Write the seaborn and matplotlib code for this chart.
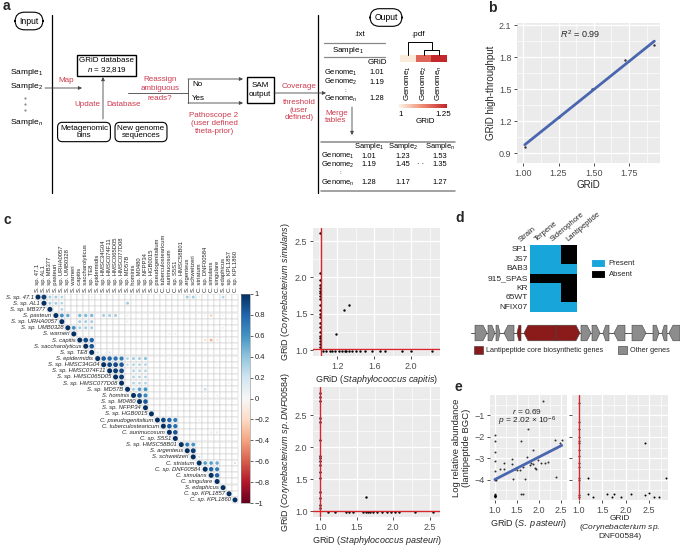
import numpy as np
import pandas as pd
import matplotlib
matplotlib.use("Agg")
import matplotlib.pyplot as plt
import matplotlib.cm as cm
import seaborn as sns
from matplotlib.patches import Rectangle, Patch
from matplotlib.colors import ListedColormap, LinearSegmentedColormap, Normalize
from matplotlib.ticker import AutoMinorLocator

# ---------------- datos ----------------
# panel a (tablas del diagrama)
genome_names = ["Genome$_1$", "Genome$_2$", "Genome$_n$"]
sample_names = ["Sample$_1$", "Sample$_2$", "Sample$_n$"]
txt_grid = [1.01, 1.19, 1.28]
merged_s1 = [1.01, 1.19, 1.28]
merged_s2 = [1.23, 1.45, 1.17]
merged_sn = [1.53, 1.35, 1.27]

# panel b
b_grid = [1.01, 1.25, 1.49, 1.72, 1.93]
b_high = [0.96, 1.24, 1.50, 1.77, 1.91]

# panel c: matriz de correlacion
species = ["S. sp. 47.1", "S. sp. AL1", "S. sp. MB377", "S. pasteuri", "S. sp. URHA0057",
           "S. sp. UMB0328", "S. warneri", "S. capitis", "S. saccharolyticus", "S. sp. TE8",
           "S. epidermidis", "S. sp. HMSC34G04", "S. sp. HMSC074F11", "S. sp. HMSC065D05",
           "S. sp. HMSC077D08", "S. sp. MD57B", "S. hominis", "S. sp. M0480", "S. sp. NFPP34",
           "S. sp. HGB0015", "C. pseudogenitalium", "C. tuberculostearicum", "C. aurimucosum",
           "C. sp. S5S1", "S. sp. HMSC58B01", "S. argenteus", "S. schweitzeri", "C. striatum",
           "C. sp. DNF00584", "C. simulans", "C. singulare", "S. edaphicus", "C. sp. KPL1857",
           "C. sp. KPL1860"]
corr_row = [0, 0, 0, 0, 0, 0, 0, 0, 0,
            1, 1, 1, 1,
            2,
            3, 3, 3, 3, 3, 3, 3, 3, 3, 3, 3, 3, 3,
            4, 4, 4, 4,
            5, 5, 5, 5, 5,
            6, 6, 6,
            7, 7, 7, 7, 7, 7,
            8,
            9, 9,
            10, 10, 10, 10, 10, 10, 10, 10, 10,
            11, 11, 11, 11, 11, 11, 11, 11,
            12, 12, 12, 12, 12, 12, 12,
            13, 13, 13, 13, 13,
            14, 14, 14, 14, 14,
            15, 15, 15, 15,
            16, 16, 16, 16,
            17, 17,
            18,
            20, 20, 20, 20, 20,
            21, 21, 21,
            22, 22, 22,
            23,
            24, 24, 24,
            25,
            26,
            27, 27, 27, 27,
            28, 28, 28,
            29, 29]
corr_col = [1, 2, 3, 4, 9, 25, 26, 27, 31,
            2, 3, 4, 15,
            4,
            4, 5, 7, 8, 9, 11, 12, 13, 15, 21, 28, 29, 31,
            7, 8, 9, 15,
            6, 7, 8, 9, 31,
            22, 23, 30,
            8, 9, 28, 29, 30, 32,
            9,
            10, 12,
            11, 12, 13, 14, 15, 16, 17, 18, 22,
            12, 13, 14, 15, 16, 17, 18, 30,
            13, 14, 16, 17, 18, 22, 32,
            14, 16, 17, 18, 22,
            16, 17, 18, 22, 32,
            16, 17, 18, 28,
            17, 18, 28, 30,
            18, 30,
            22,
            21, 22, 23, 27, 32,
            22, 23, 32,
            23, 29, 30,
            24,
            25, 26, 27,
            26,
            27,
            28, 29, 30, 33,
            29, 30, 32,
            30, 32]
corr_val = [0.95, 0.35, 0.35, 0.3, 0.12, 0.35, 0.35, 0.1, 0.3,
            0.35, 0.35, 0.3, 0.35,
            0.3,
            0.6, 0.5, 0.45, 0.45, 0.45, 0.35, 0.35, 0.35, 0.12, 0.08, 0.1, -0.25, 0.1,
            0.35, 0.35, 0.35, 0.12,
            0.6, 0.35, 0.35, 0.35, 0.1,
            0.1, 0.1, 0.1,
            0.9, 0.8, -0.2, -0.35, -0.15, -0.1,
            0.85,
            0.2, 0.2,
            0.85, 0.8, 0.75, 0.7, 0.3, 0.35, 0.35, 0.4, 0.1,
            0.9, 0.9, 0.85, 0.25, 0.3, 0.3, 0.3, 0.1,
            0.95, 0.9, 0.3, 0.3, 0.3, 0.1, 0.1,
            0.95, 0.3, 0.3, 0.3, 0.1,
            0.3, 0.3, 0.3, 0.1, 0.1,
            0.35, 0.55, 0.6, 0.25,
            0.85, 0.65, 0.1, 0.1,
            0.85, 0.1,
            0.1,
            0.9, 0.8, 0.7, 0.1, 0.1,
            0.85, 0.75, 0.1,
            0.85, 0.15, 0.15,
            0.1,
            0.7, 0.6, 0.1,
            0.95,
            0.2,
            0.55, 0.55, 0.5, 0.2,
            0.8, 0.7, 0.1,
            0.8, 0.1]
cbar_ticks = [1, 0.8, 0.6, 0.4, 0.2, 0, -0.2, -0.4, -0.6, -0.8, -1]
cbar_labels = ["1", "0.8", "0.6", "0.4", "0.2", "0", "\u22120.2", "\u22120.4", "\u22120.6", "\u22120.8", "\u22121"]

# panel c: dispersiones
capitis_grid = [1.02, 1.02, 1.02, 1.02, 1.02, 1.02, 1.02, 1.02, 1.02, 1.02, 1.02, 1.02, 1.02,
                1.02, 1.02, 1.02, 1.02, 1.02, 1.02, 1.02, 1.02,
                1.05, 1.08, 1.12, 1.15, 1.18, 1.22, 1.25, 1.28, 1.30, 1.33, 1.36, 1.40, 1.45,
                1.50, 1.58, 1.66, 1.72, 1.90, 2.00, 2.22,
                1.19, 1.27, 1.33]
simulans_grid = [2.61, 2.06, 1.96, 1.90, 1.86, 1.82, 1.78, 1.74, 1.70, 1.62, 1.55, 1.50, 1.45,
                 1.38, 1.32, 1.25, 1.20, 1.17, 1.12, 1.08, 1.04,
                 0.99, 0.99, 0.99, 0.99, 0.99, 0.99, 0.99, 0.99, 0.99, 0.99, 0.99, 0.99, 0.99,
                 0.99, 0.99, 0.99, 0.99, 0.99, 0.99, 0.99,
                 1.22, 1.55, 1.62]
pasteuri_grid_c = [1.0, 1.0, 1.0, 1.0, 1.0, 1.0, 1.0, 1.0, 1.0, 1.0, 1.0, 1.0, 1.0, 1.0, 1.0, 1.0,
                   1.10, 1.20, 1.35, 1.40, 1.45, 1.58, 1.62, 1.65, 1.68, 1.72, 1.78, 1.85, 1.92,
                   1.97, 2.02, 2.08, 2.30, 2.55,
                   1.62]
dnf_grid_c = [2.85, 2.78, 2.72, 2.45, 2.40, 2.12, 1.87, 1.83, 1.78, 1.72, 1.62, 1.52, 1.30, 1.20,
              1.10, 1.05,
              0.99, 0.99, 0.99, 0.99, 0.99, 0.99, 0.99, 0.99, 0.99, 0.99, 0.99, 0.99, 0.99,
              0.99, 0.99, 0.99, 0.99, 0.99,
              1.22]

# panel d
strains = ["SP1", "JS7", "BAB3", "915_SPAS", "KR", "65WT", "NFIX07"]
terpene = [1, 1, 1, 0, 1, 1, 1]
siderophore = [1, 1, 1, 0, 1, 1, 1]
lantipeptide = [0, 0, 1, 0, 0, 0, 1]
gene_start = [5, 18, 26, 34, 47, 54, 86, 111, 122, 133, 144, 162, 183, 192, 199]
gene_end = [17, 25, 30, 44, 51, 86, 110, 121, 130, 139, 155, 176, 189, 197, 210]
gene_strand = [1, 1, 1, -1, -1, -1, 1, 1, 1, -1, -1, 1, 1, -1, -1]
gene_core = [0, 0, 0, 0, 1, 1, 1, 0, 0, 0, 0, 0, 0, 0, 0]

# panel e
pasteuri_grid = [1.0, 1.0, 1.0, 1.0, 1.0, 1.0, 1.0, 1.0, 1.11, 1.2, 1.2, 1.38, 1.38, 1.42,
                 1.45, 1.5, 1.57, 1.6, 1.6, 1.65, 1.68, 1.65, 1.72, 1.76, 1.8, 1.82, 1.86,
                 1.91, 1.94, 1.87, 1.98, 2.06, 2.14, 2.21, 2.36, 2.4, 2.48, 2.52, 2.1,
                 1.0, 1.0, 1.0, 1.0, 1.0, 1.0, 1.0, 1.0, 1.02, 1.0]
lanti_abund = [-1.92, -2.2, -2.69, -3.15, -3.6, -4.0, -4.69, -4.8, -3.5, -3.5, -3.2, -3.03,
               -3.26, -3.95, -3.5, -3.55, -3.55, -2.2, -4.65, -4.65, -3.95, -3.4, -2.95, -1.63,
               -3.3, -3.22, -3.25, -3.45, -3.5, -2.6, -3.1, -3.22, -3.22, -3.18, -2.15, -3.88,
               -2.3, -2.15, -0.35,
               -4.75, -4.75, -4.75, -4.75, -4.75, -4.75, -4.7, -4.7, -4.0, -3.95]
dnf_grid = [1.0, 1.0, 1.0, 1.0, 1.0, 1.0, 1.0, 1.0, 1.0, 1.0, 1.0, 1.0, 1.0, 1.0,
            1.2, 1.2, 1.3, 1.6, 1.7, 1.75, 1.9, 2.1, 2.4, 2.4, 2.5, 2.6, 2.7, 2.85]
lanti_abund2 = [-0.4, -1.3, -1.65, -2.0, -2.2, -2.3, -2.6, -2.9, -3.2, -3.4, -3.9, -4.0, -4.7,
                -4.8, -3.9, -4.65, -4.8, -4.65, -4.8, -4.65, -4.8, -4.65, -2.3, -4.7, -4.6,
                -4.8, -4.8, -3.9]

# ---------------- estilo ----------------
sns.set_theme(context="paper", style="white")
plt.rcParams["font.family"] = ["Liberation Sans", "DejaVu Sans"]
plt.rcParams["mathtext.fontset"] = "custom"
plt.rcParams["mathtext.rm"] = "Liberation Sans"
plt.rcParams["mathtext.it"] = "Liberation Sans:italic"
plt.rcParams["mathtext.bf"] = "Liberation Sans:bold"

W, H = 680, 546
RED = "#cf3a4e"
LINE_RED = "#d7262b"
BLUE = "#4a66ae"

fig = plt.figure(figsize=(6.8, 5.46), dpi=100)


def rect(x0, y0, x1, y1):
    return [x0 / W, 1 - y1 / H, (x1 - x0) / W, (y1 - y0) / H]


def gg(ax):
    # apariencia tipo ggplot
    ax.set_facecolor("#EBEBEB")
    ax.xaxis.set_minor_locator(AutoMinorLocator(2))
    ax.yaxis.set_minor_locator(AutoMinorLocator(2))
    ax.grid(True, which="major", color="white", lw=0.9)
    ax.grid(True, which="minor", color="white", lw=0.45)
    ax.set_axisbelow(True)
    for s in ax.spines.values():
        s.set_visible(False)
    ax.tick_params(which="major", bottom=True, left=True, length=2.5, width=0.6,
                   color="#333333", labelsize=6.5, labelcolor="#4D4D4D", pad=1.5)
    ax.tick_params(which="minor", length=0)


# ---------------- panel a ----------------
ax = fig.add_axes(rect(0, 0, 460, 200))
ax.set_xlim(0, 460)
ax.set_ylim(200, 0)
ax.axis("off")
FS = 5.8


def t(x, y, s, color="black", **kw):
    kw.setdefault("ha", "center")
    kw.setdefault("va", "center")
    size = kw.pop("fontsize", FS)
    ax.text(x, y, s, color=color, fontsize=size, **kw)


def arrow(x0, y0, x1, y1):
    ax.annotate("", xy=(x1, y1), xytext=(x0, y0),
                arrowprops=dict(arrowstyle="-|>", color="#444444", lw=0.6,
                                mutation_scale=5, shrinkA=0, shrinkB=0))


pill = dict(boxstyle="round,pad=0.5,rounding_size=1.1", fc="white", ec="black", lw=0.8)
rbox = dict(boxstyle="round,pad=0.3,rounding_size=0.6", fc="white", ec="black", lw=0.8)

ax.text(3, 6, "a", fontsize=10, fontweight="bold", ha="left", va="center")
t(29, 21, "Input", bbox=pill, fontsize=6.2)
ax.plot([52, 52], [15, 193], color="black", lw=0.9)
ax.plot([318, 318], [15, 193], color="black", lw=0.9)
for y, s in zip([72, 87, 123], sample_names):
    t(10, y, s, ha="left", fontsize=6)
ax.plot([25, 25, 25], [98, 104, 110], ".", color="#666666", ms=0.9)
t(66, 81, "Map", RED)
arrow(45, 88, 82, 88)
ax.add_patch(Rectangle((77, 55), 59, 21, fill=False, lw=1.0, ec="black"))
t(106.5, 61, "GRiD database")
t(106.5, 70.5, "$n$ = 32,819")
arrow(103, 119, 103, 77)
t(100, 105, "Update", RED, ha="right")
t(106, 105, "Database", RED, ha="left")
t(84, 132, "Metagenomic\nbins", bbox=rbox, linespacing=1.1)
t(141, 132, "New genome\nsequences", bbox=rbox, linespacing=1.1)
t(160, 89, "Reassign\nambiguous\nreads?", RED, linespacing=1.45)
ax.plot([128, 188], [93, 93], color="#444444", lw=0.6)
ax.plot([188, 188], [79, 103], color="#444444", lw=0.6)
arrow(188, 79, 243, 79)
arrow(188, 103, 243, 103)
t(192, 84, "No", ha="left")
t(192, 98.5, "Yes", ha="left")
t(214, 123.5, "Pathoscope 2\n(user defined\ntheta-prior)", RED, linespacing=1.2)
ax.add_patch(Rectangle((246.5, 77), 27.5, 26, fill=False, lw=1.0, ec="black"))
t(260, 90, "SAM\noutput", linespacing=1.3)
t(299, 86, "Coverage", RED)
t(299, 110, "threshold\n(user\ndefined)", RED, linespacing=1.1)
arrow(274, 93, 326, 93)

# salida
t(386, 17.5, "Ouput", bbox=pill, fontsize=6.2)
t(360, 35, ".txt")
t(418, 35, ".pdf")
ax.plot([324, 385], [43, 43], color="#888888", lw=0.9)
ax.plot([324, 385], [57, 57], color="#888888", lw=0.9)
t(348, 50, sample_names[0])
t(377, 63, "GRiD")
for y, name, v in zip([72.5, 82, 99], genome_names, txt_grid):
    t(324, y, name, ha="left", fontsize=5.4)
    t(377, y, f"{v:.2f}", fontsize=5.4)
t(345, 90.5, ":", fontsize=4.5)
t(325, 117, "Merge\ntables", RED, ha="left", linespacing=1.1)
arrow(352, 107, 352, 135)

ax.plot([321, 455], [141.5, 141.5], color="#888888", lw=1.1)
ax.plot([321, 455], [191, 191], color="#888888", lw=1.1)
col_x = [369, 403, 440]
for x, s in zip(col_x, sample_names):
    t(x, 147, s, fontsize=5.4)
for y, name, a1, a2, an in zip([156, 165, 183], genome_names, merged_s1, merged_s2, merged_sn):
    t(321, y, name, ha="left", fontsize=5.4)
    t(col_x[0], y, f"{a1:.2f}", fontsize=5.4)
    t(col_x[1], y, f"{a2:.2f}", fontsize=5.4)
    t(col_x[2], y, f"{an:.2f}", fontsize=5.4)
t(340, 173, ":", fontsize=4.5)
t(421, 165, "\u00b7 \u00b7", fontsize=5.5)

# mapa de calor .pdf
grid_cmap = LinearSegmentedColormap.from_list("grid", ["#FBF3E2", "#EE8A73", "#C3262B"])
ax.imshow(np.array([txt_grid]), extent=(400, 447, 62, 55), cmap=grid_cmap,
          vmin=1, vmax=1.28, aspect="auto")
ax.plot([407.8, 407.8, 431.5, 431.5], [55, 42, 42, 50], color="black", lw=0.7)
ax.plot([423.5, 423.5, 439.2, 439.2], [55, 50, 50, 55], color="black", lw=0.7)
for x, name in zip([407.8, 423.5, 439.2], genome_names):
    t(x, 65, name, rotation=90, va="top")
ax.imshow(np.linspace(1, 1.25, 64)[None, :], extent=(399, 447, 108.5, 105),
          cmap=grid_cmap, vmin=1, vmax=1.25, aspect="auto")
t(401, 114, "1")
t(443, 114, "1.25")
t(425, 121.5, "GRiD")
ax.set_xlim(0, 460)
ax.set_ylim(200, 0)

# ---------------- panel b ----------------
fig.text(488 / W, 1 - 8 / H, "b", fontsize=10, fontweight="bold", va="center")
ax_b = fig.add_axes(rect(517, 23, 660, 163))
sns.regplot(x=b_grid, y=b_high, ax=ax_b, ci=None, color="black",
            scatter_kws=dict(s=3, linewidths=0), line_kws=dict(color=BLUE, lw=2))
ax_b.set_xlim(0.955, 1.97)
ax_b.set_ylim(0.81, 2.12)
ax_b.set_xticks([1.0, 1.25, 1.5, 1.75])
ax_b.set_xticklabels(["1.00", "1.25", "1.50", "1.75"])
ax_b.set_yticks([0.9, 1.2, 1.5, 1.8, 2.1])
gg(ax_b)
ax_b.set_xlabel("GRiD", fontsize=7, labelpad=2)
ax_b.set_ylabel("GRiD high-throughput", fontsize=7, labelpad=2)
ax_b.text(1.40, 2.02, "$R^2$ = 0.99", fontsize=6.5, ha="center", va="center")

# ---------------- panel c: matriz ----------------
fig.text(3 / W, 1 - 220 / H, "c", fontsize=10, fontweight="bold", va="center")
n = len(species)
mat = np.eye(n)
for r, c, v in zip(corr_row, corr_col, corr_val):
    mat[r, c] = v
ii, jj = np.triu_indices(n)
vals = mat[ii, jj]
nz = vals != 0

ax_c = fig.add_axes(rect(35, 294, 238, 503))
ax_c.scatter(jj, ii, s=18.5, marker="s", facecolor="white", edgecolor="#C8C8C8", linewidths=0.35)
ax_c.scatter(jj[nz], ii[nz], s=13 * np.abs(vals[nz]), c=vals[nz], cmap="RdBu",
             vmin=-1, vmax=1, linewidths=0, zorder=3)
ax_c.set_xlim(-0.5, n - 0.5)
ax_c.set_ylim(n - 0.5, -0.5)
ax_c.xaxis.tick_top()
ax_c.set_xticks(range(n))
ax_c.set_xticklabels(species, rotation=90, fontsize=4.2)
ax_c.set_yticks([])
ax_c.tick_params(axis="x", length=0, pad=1.5, top=True, bottom=False)
for s in ax_c.spines.values():
    s.set_visible(False)
for i, name in enumerate(species):
    ax_c.text(i - 0.75, i, name, ha="right", va="center", fontsize=4.2, style="italic")

cax = fig.add_axes(rect(241, 294, 250, 503))
cb = fig.colorbar(cm.ScalarMappable(norm=Normalize(-1, 1), cmap="RdBu"), cax=cax, ticks=cbar_ticks)
cb.ax.set_yticklabels(cbar_labels)
cb.ax.tick_params(labelsize=5.5, length=2, width=0.5, pad=1.5)
cb.outline.set_linewidth(0.4)
cb.outline.set_edgecolor("#888888")

# ---------------- panel c: dispersiones ----------------
ax_c1 = fig.add_axes(rect(313, 228, 440, 356))
sns.scatterplot(x=capitis_grid, y=simulans_grid, ax=ax_c1, s=3, color="black", linewidth=0)
ax_c1.axvline(1.03, color=LINE_RED, lw=1)
ax_c1.axhline(1.01, color=LINE_RED, lw=1)
ax_c1.set_xlim(0.94, 2.31)
ax_c1.set_ylim(0.92, 2.68)
ax_c1.set_xticks([1.2, 1.6, 2.0])
ax_c1.set_yticks([1.0, 1.5, 2.0, 2.5])
gg(ax_c1)
ax_c1.set_xlabel("GRiD ($\\it{Staphylococcus\\ capitis}$)", fontsize=6.5, labelpad=2)
ax_c1.set_ylabel("GRiD ($\\it{Corynebacterium\\ simulans}$)", fontsize=6.5, labelpad=2)

ax_c2 = fig.add_axes(rect(313, 387, 440, 517))
sns.scatterplot(x=pasteuri_grid_c, y=dnf_grid_c, ax=ax_c2, s=3, color="black", linewidth=0)
ax_c2.axvline(1.0, color=LINE_RED, lw=1)
ax_c2.axhline(1.0, color=LINE_RED, lw=1)
ax_c2.set_xlim(0.90, 2.64)
ax_c2.set_ylim(0.91, 2.94)
ax_c2.set_xticks([1.0, 1.5, 2.0, 2.5])
ax_c2.set_yticks([1.0, 1.5, 2.0, 2.5])
gg(ax_c2)
ax_c2.set_xlabel("GRiD ($\\it{Staphylococcus\\ pasteuri}$)", fontsize=6.5, labelpad=2)
ax_c2.set_ylabel("GRiD ($\\it{Corynebacterium\\ sp.DNF00584}$)", fontsize=6.5, labelpad=2)

# ---------------- panel d ----------------
fig.text(455 / W, 1 - 218 / H, "d", fontsize=10, fontweight="bold", va="center")
ax_d = fig.add_axes(rect(530, 245, 577, 312))
df_d = pd.DataFrame({"Terpene": terpene, "Siderophore": siderophore,
                     "Lantipeptide": lantipeptide}, index=strains)
sns.heatmap(df_d, ax=ax_d, cmap=ListedColormap(["black", "#18A6DA"]), vmin=0, vmax=1,
            cbar=False, xticklabels=True, yticklabels=True)
ax_d.xaxis.tick_top()
ax_d.set_xticks([0.5, 1.5, 2.5])
ax_d.set_xticklabels(list(df_d.columns), rotation=40, ha="left", va="bottom",
                     rotation_mode="anchor", fontsize=5.5)
ax_d.set_yticks([0.5 + k for k in range(len(strains))])
ax_d.set_yticklabels(strains, rotation=0, fontsize=6)
ax_d.tick_params(length=0, pad=1.5)
ax_d.set_xlabel("")
ax_d.set_ylabel("")
ax_d.text(-0.5, -0.2, "Strain", rotation=40, ha="left", va="bottom",
          rotation_mode="anchor", fontsize=5.5)
fig.legend(handles=[Patch(fc="#18A6DA", label="Present"), Patch(fc="black", label="Absent")],
           loc="upper left", bbox_to_anchor=(591 / W, 1 - 259 / H), frameon=False,
           fontsize=5.5, handlelength=1.8, handleheight=1.2, handletextpad=0.5,
           labelspacing=0.3, borderpad=0, borderaxespad=0)

# cluster de genes
ax_g = fig.add_axes(rect(468, 322, 682, 344))
ax_g.set_xlim(-2, 212)
ax_g.set_ylim(-1.2, 1.2)
ax_g.axis("off")
ax_g.plot([1, 210], [0, 0], color="#555555", lw=0.7, zorder=0)
for s, e, d, core in zip(gene_start, gene_end, gene_strand, gene_core):
    h = 0.85
    head = min(4, 0.45 * (e - s))
    if d > 0:
        px = [s, e - head, e, e - head, s]
    else:
        px = [e, s + head, s, s + head, e]
    py = [-h, -h, 0, h, h]
    ax_g.fill(px, py, fc="#8B1A1A" if core else "#8C8C8C", ec="#444444", lw=0.4)
fig.legend(handles=[Patch(fc="#8B1A1A", ec="#333333", lw=0.4, label="Lantipeptide core biosynthetic genes"),
                    Patch(fc="#8C8C8C", ec="#333333", lw=0.4, label="Other genes")],
           loc="upper left", bbox_to_anchor=(474 / W, 1 - 346 / H), ncol=2, frameon=False,
           fontsize=5.2, handlelength=1.3, handleheight=1.3, handletextpad=0.4,
           columnspacing=2.0, borderpad=0, borderaxespad=0)

# ---------------- panel e ----------------
fig.text(455 / W, 1 - 387 / H, "e", fontsize=10, fontweight="bold", va="center")
ax_e1 = fig.add_axes(rect(490, 395, 567, 500))
sns.regplot(x=pasteuri_grid, y=lanti_abund, ax=ax_e1, ci=None, color="black",
            scatter_kws=dict(s=2, linewidths=0), line_kws=dict(color=BLUE, lw=2))
ax_e1.set_xlim(0.89, 2.64)
ax_e1.set_ylim(-4.95, -0.05)
ax_e1.set_xticks([1.0, 1.5, 2.0, 2.5])
ax_e1.set_yticks([-4, -3, -2, -1])
gg(ax_e1)
ax_e1.set_xlabel("GRiD ($\\it{S.\\ pasteuri}$)", fontsize=6.5, labelpad=2)
ax_e1.set_ylabel("Log relative abundance\n(lantipeptide BGC)", fontsize=6.8, labelpad=2)
ax_e1.text(1.74, -0.82, "$r$ = 0.69", fontsize=6, ha="center", va="center")
ax_e1.text(1.74, -1.28, "$p$ = 2.02 \u00d7 10$^{-6}$", fontsize=6, ha="center", va="center")

ax_e2 = fig.add_axes(rect(572, 395, 668, 500))
sns.scatterplot(x=dnf_grid, y=lanti_abund2, ax=ax_e2, s=2, color="black", linewidth=0)
ax_e2.axvline(1.0, color=LINE_RED, lw=1)
ax_e2.set_xlim(0.85, 2.9)
ax_e2.set_ylim(-4.95, -0.05)
ax_e2.set_xticks([1.0, 1.5, 2.0, 2.5])
ax_e2.set_yticks([-4, -3, -2, -1])
gg(ax_e2)
ax_e2.set_yticklabels([])
ax_e2.set_xlabel("GRiD\n($\\it{Corynebacterium\\ sp.}$\nDNF00584)", fontsize=6.0,
                 labelpad=0.5, linespacing=0.95)

fig.savefig("out.png", dpi=100)
